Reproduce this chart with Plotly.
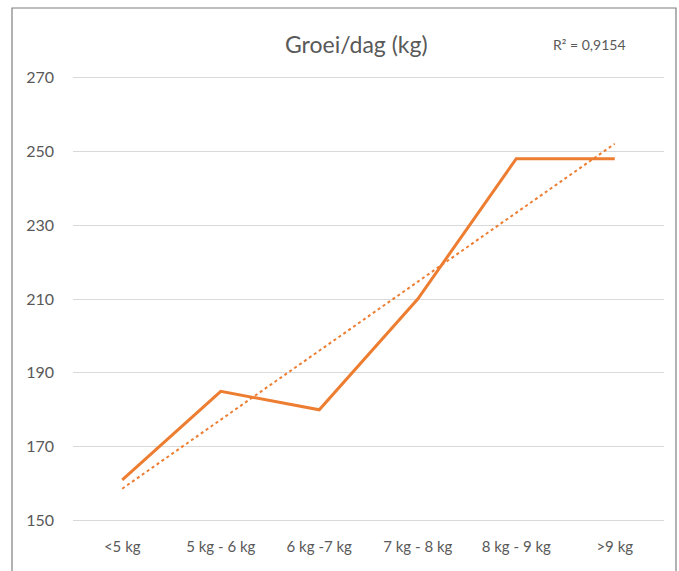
import numpy as np
import plotly.graph_objects as go

categories = ["<5 kg", "5 kg - 6 kg", "6 kg -7 kg", "7 kg - 8 kg", "8 kg - 9 kg", ">9 kg"]
groei = [161, 185, 180, 210, 248, 248]
y_ticks = [150, 170, 190, 210, 230, 250, 270]
title_text = "Groei/dag (kg)"
r2_text = "R² = 0,9154"

W, H = 679, 571
ML, MR, MT, MB = 73, 15, 76, 49

# linear trendline (least squares over category index)
xi = np.arange(1, len(groei) + 1)
slope, intercept = np.polyfit(xi, groei, 1)
trend = slope * xi + intercept

orange = "#ED7D31"
fig = go.Figure()
fig.add_trace(go.Scatter(x=categories, y=trend, mode="lines",
                         line=dict(color=orange, width=2, dash="dot"),
                         showlegend=False, hoverinfo="skip"))
fig.add_trace(go.Scatter(x=categories, y=groei, mode="lines",
                         line=dict(color=orange, width=3),
                         showlegend=False))

pw = W - ML - MR
ph = H - MT - MB
def px_to_paper_x(px):
    return (px - ML) / pw
def px_to_paper_y(py):
    return (H - MB - py) / ph

fig.add_shape(type="rect", xref="paper", yref="paper",
              x0=px_to_paper_x(12), x1=px_to_paper_x(676),
              y0=px_to_paper_y(580), y1=px_to_paper_y(8),
              line=dict(color="#7f7f7f", width=1.2), fillcolor="rgba(0,0,0,0)")

fig.add_annotation(text=title_text, xref="paper", yref="paper",
                   x=px_to_paper_x(356), y=px_to_paper_y(44),
                   showarrow=False, font=dict(family="Lato", size=23, color="#595959"),
                   xanchor="center", yanchor="middle")
fig.add_annotation(text=r2_text, xref="paper", yref="paper",
                   x=px_to_paper_x(589), y=px_to_paper_y(45),
                   showarrow=False, font=dict(family="Lato", size=14, color="#595959"),
                   xanchor="center", yanchor="middle")

fig.update_layout(
    width=W, height=H,
    margin=dict(l=ML, r=MR, t=MT, b=MB),
    plot_bgcolor="white", paper_bgcolor="white",
    font=dict(family="Lato", color="#595959", size=14),
)
fig.update_xaxes(type="category", range=[-0.5, 5.5], showgrid=False, showline=False, ticks="",
                 tickfont=dict(size=15, color="#595959"), ticklabelstandoff=14)
fig.update_yaxes(range=[149.6, 270.4], tickvals=y_ticks, showgrid=True,
                 gridcolor="#d9d9d9", gridwidth=1.2, zeroline=False, showline=False,
                 ticks="", tickfont=dict(size=16, color="#595959"), ticklabelstandoff=18)

fig.write_html("out.html", config={"displayModeBar": False},
               post_script="document.body.style.margin='0';document.body.style.overflow='hidden';")
